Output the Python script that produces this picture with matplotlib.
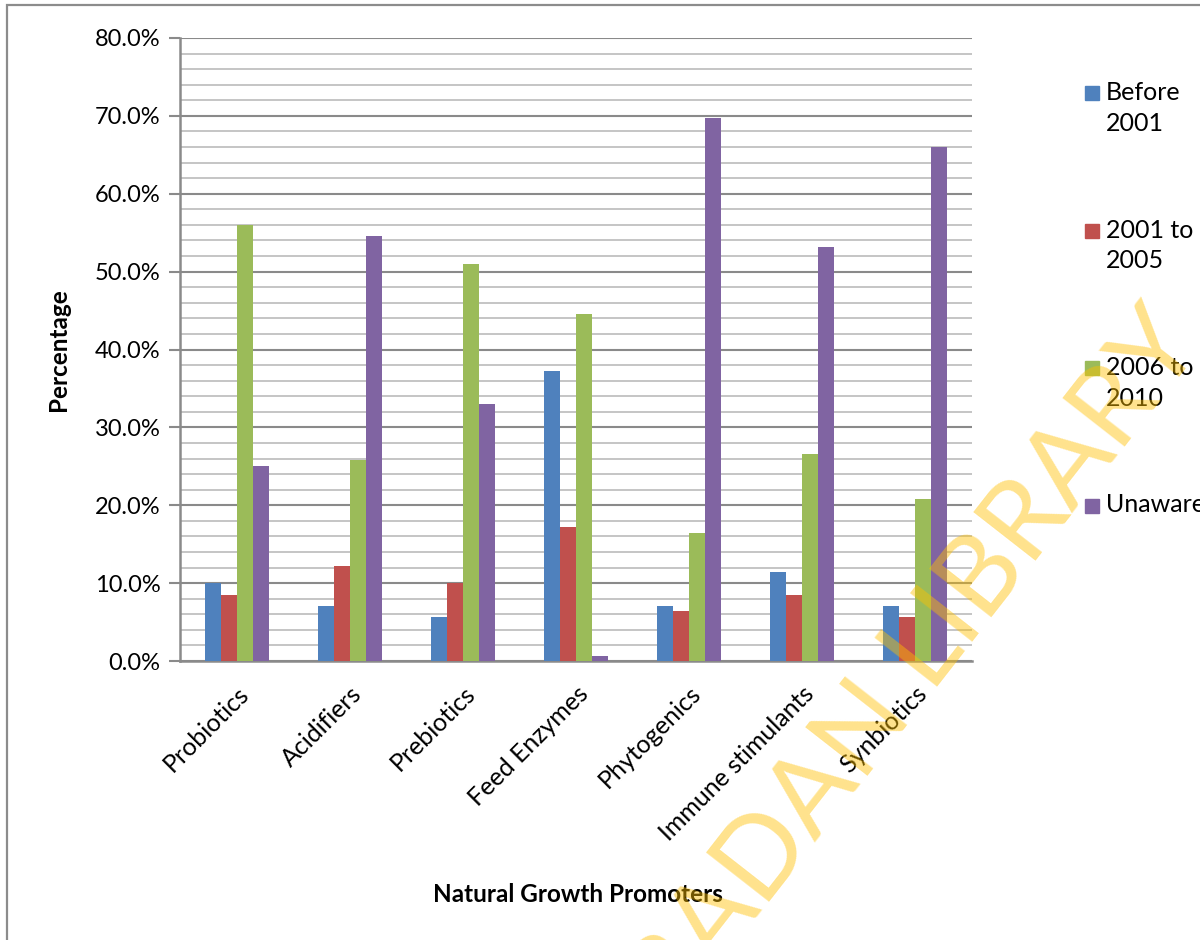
import numpy as np
import matplotlib
matplotlib.use("Agg")
import matplotlib.pyplot as plt
from matplotlib.patches import Rectangle
from matplotlib.ticker import MultipleLocator, PercentFormatter

categories = ["Probiotics", "Acidifiers", "Prebiotics", "Feed Enzymes",
              "Phytogenics", "Immune stimulants", "Synbiotics"]
series_names = ["Before\n2001", "2001 to\n2005", "2006 to\n2010", "Unaware"]
before_2001 = [10.0, 7.1, 5.7, 37.3, 7.1, 11.4, 7.1]
y2001_2005 = [8.5, 12.2, 10.0, 17.2, 6.4, 8.5, 5.7]
y2006_2010 = [56.0, 25.8, 51.0, 44.5, 16.4, 26.6, 20.8]
unaware = [25.1, 54.6, 33.0, 0.6, 69.7, 53.1, 66.0]
colors = ["#4F81BD", "#C0504D", "#9BBB59", "#8064A2"]

plt.rcParams['font.family'] = ['Lato', 'DejaVu Sans']

W, H = 1200, 940
fig = plt.figure(figsize=(12, 9.4), dpi=100)
ax = fig.add_axes([180/W, 1-661/H, (972-180)/W, (661-38)/H])

# outer chart frame
fig.patches.append(Rectangle((7/W, -0.1), 1.2, 0.1 + 1 - 5/H, transform=fig.transFigure,
                             fill=False, edgecolor="#8c8c8c", lw=1.6, zorder=0))

x = np.arange(len(categories))
w = 0.1415
all_series = [before_2001, y2001_2005, y2006_2010, unaware]
for i, (vals, name, c) in enumerate(zip(all_series, series_names, colors)):
    ax.bar(x + (i - 1.5) * w, vals, w, color=c, label=name, zorder=3)

ax.set_xlim(-0.5, 6.5)
ax.set_ylim(0, 80)
ax.yaxis.set_major_locator(MultipleLocator(10))
ax.yaxis.set_minor_locator(MultipleLocator(2))
ax.yaxis.set_major_formatter(PercentFormatter(decimals=1))
ax.grid(which="major", axis="y", color="#8a8a8a", lw=1.5, zorder=1)
ax.grid(which="minor", axis="y", color="#c0c0c0", lw=1.3, zorder=1)
ax.tick_params(axis="y", which="major", length=8, width=1.5, color="#8a8a8a",
               labelsize=17, pad=6)
ax.tick_params(axis="y", which="minor", length=0)
ax.tick_params(axis="x", length=0, labelsize=18, pad=15)
ax.set_xticks(x)
ax.set_xticklabels(categories, rotation=45, ha="right", rotation_mode="anchor")
for s in ["top", "right"]:
    ax.spines[s].set_visible(False)
for s in ["left", "bottom"]:
    ax.spines[s].set_color("#8a8a8a")
    ax.spines[s].set_linewidth(1.8)

ax.set_ylabel("Percentage", fontsize=17.5, fontweight="bold", labelpad=18)
fig.text(578/W, 1-895/H, "Natural Growth Promoters", fontsize=17.5,
         fontweight="bold", ha="center", va="center")

# legend, square aligned with the first text line as in the original
leg_top = 93
leg_step = 137.5
for i, (name, c) in enumerate(zip(series_names, colors)):
    yc = leg_top + i * leg_step
    fig.patches.append(Rectangle((1085/W, 1-(yc+7)/H), 14/W, 14/H,
                                 transform=fig.transFigure, color=c))
    fig.text(1106/W, 1-(yc-12)/H, name, fontsize=18, ha="left", va="top",
             linespacing=1.4)

# library watermark
fig.text(1205/W, 1-345/H, "UNIVERSITY OF IBADAN LIBRARY", fontsize=80,
         color="#FFC000", alpha=0.45, rotation=52,
         rotation_mode="anchor", ha="right", va="baseline", zorder=10)

fig.savefig("out.png", dpi=100)
